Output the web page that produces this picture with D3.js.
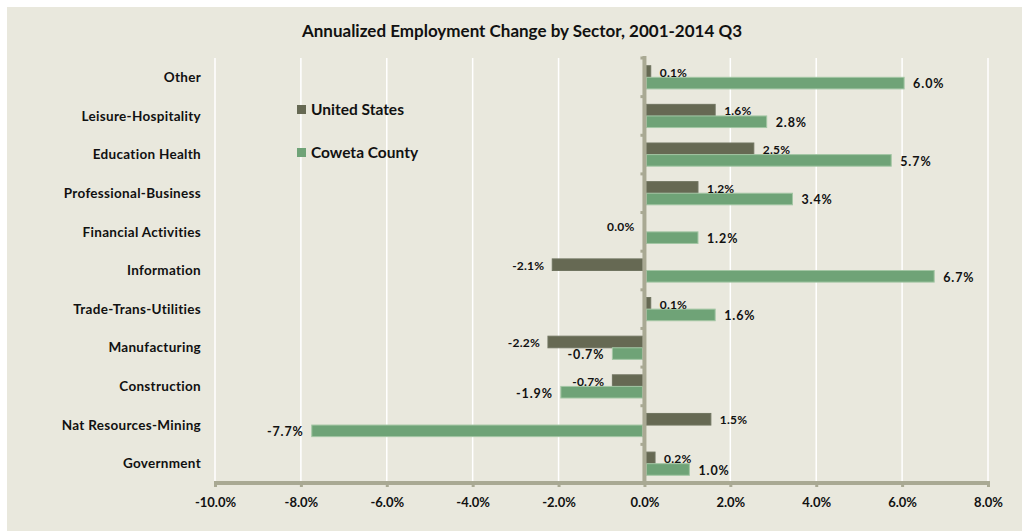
<!DOCTYPE html>
<html>
<head>
<meta charset="utf-8">
<script src="https://cdn.jsdelivr.net/npm/d3@7"></script>
<style>
  html, body { margin: 0; padding: 0; background: #ffffff; }
  svg { display: block; }
  text { font-family: Lato, "Open Sans", sans-serif; font-weight: 700; fill: #111; }
</style>
</head>
<body>
<svg id="chart" width="1022" height="531"></svg>
<script>
// Sectors, top to bottom
const sectors = [
  "Other", "Leisure-Hospitality", "Education Health", "Professional-Business",
  "Financial Activities", "Information", "Trade-Trans-Utilities", "Manufacturing",
  "Construction", "Nat Resources-Mining", "Government"
];
// Annualized employment change, percent
const unitedStates = [0.1, 1.6, 2.5, 1.2, 0.0, -2.1, 0.1, -2.2, -0.7, 1.5, 0.2];
const cowetaCounty = [6.0, 2.8, 5.7, 3.4, 1.2, 6.7, 1.6, -0.7, -1.9, -7.7, 1.0];
const seriesNames = ["United States", "Coweta County"];
const xTicks = [-10, -8, -6, -4, -2, 0, 2, 4, 6, 8];

const colors = { "United States": "#666953", "Coweta County": "#6fa377" };
const strokes = { "United States": "#707460", "Coweta County": "#a3c6a4" };

// plain hyphen for negative numbers
const locale = d3.formatLocale({ decimal: ".", thousands: ",", grouping: [3], currency: ["", ""], minus: "-" });
const pct = v => locale.format(".1f")(v) + "%";

const svg = d3.select("#chart");
const W = 1022, H = 531;

// chart panel
svg.append("rect").attr("x", 7).attr("y", 7).attr("width", W - 7).attr("height", H - 7)
  .attr("fill", "#e9e8dd");

const plot = { left: 215, right: 988, top: 58, bottom: 483 };

const x = d3.scaleLinear().domain([-10, 8]).range([plot.left, plot.right]);
const y = d3.scaleBand().domain(sectors).range([plot.top, plot.bottom])
  .paddingInner(0.4).paddingOuter(0.2);
const inner = d3.scaleBand().domain(seriesNames).range([0, y.bandwidth()]);
const step = y.step();

// title
svg.append("text").attr("x", 522).attr("y", 37).attr("text-anchor", "middle")
  .style("font-size", "17px").text("Annualized Employment Change by Sector, 2001-2014 Q3");

// vertical gridlines
svg.append("g").selectAll("line").data(xTicks.filter(t => t !== 0)).join("line")
  .attr("x1", d => x(d)).attr("x2", d => x(d))
  .attr("y1", plot.top).attr("y2", plot.bottom)
  .attr("stroke", "#ffffff").attr("stroke-width", 1.5);

// bars
const rows = sectors.map((s, i) => ({ sector: s, values: [
  { series: "United States", value: unitedStates[i] },
  { series: "Coweta County", value: cowetaCounty[i] }
]}));

const groups = svg.append("g").selectAll("g").data(rows).join("g")
  .attr("transform", d => `translate(0,${y(d.sector)})`);

groups.selectAll("rect").data(d => d.values).join("rect")
  .attr("x", d => Math.min(x(0), x(d.value)) + (d.value >= 0 ? 2 : -2))
  .attr("width", d => Math.abs(x(d.value) - x(0)))
  .attr("y", d => inner(d.series))
  .attr("height", inner.bandwidth())
  .attr("fill", d => colors[d.series])
  .attr("stroke", d => strokes[d.series])
  .attr("stroke-width", 1);

// value labels
groups.selectAll("text").data(d => d.values).join("text")
  .attr("x", d => d.value > 0 ? x(d.value) + 11 : x(d.value) - 10)
  .attr("y", d => inner(d.series) + inner.bandwidth() / 2 + 1)
  .attr("dy", "0.35em")
  .attr("text-anchor", d => d.value > 0 ? "start" : "end")
  .style("font-size", d => d.series === "United States" ? "12px" : "12.5px")
  .style("letter-spacing", d => d.series === "United States" ? "0.2px" : "0.9px")
  .text(d => pct(d.value));

// category labels
svg.append("g").selectAll("text").data(sectors).join("text")
  .attr("x", 201).attr("y", d => y(d) + y.bandwidth() / 2).attr("dy", "0.35em")
  .attr("text-anchor", "end").style("font-size", "13.5px").style("letter-spacing", "0.3px")
  .text(d => d);

// horizontal axis
const axisColor = "#a9a993";
const xAxis = svg.append("g").attr("transform", `translate(0,${plot.bottom})`)
  .call(d3.axisBottom(x).tickValues(xTicks).tickFormat(pct).tickSize(4).tickPadding(11));
xAxis.select(".domain").remove();
xAxis.selectAll(".tick line").attr("stroke", axisColor).attr("stroke-width", 3);
xAxis.selectAll(".tick text").style("font-size", "13px").style("font-family", "Lato, sans-serif")
  .attr("fill", "#111");
xAxis.append("line").attr("x1", plot.left - 1).attr("x2", plot.right + 2)
  .attr("y1", 0).attr("y2", 0).attr("stroke", axisColor).attr("stroke-width", 4);

// vertical zero axis with category boundary ticks
const yEdges = d3.range(sectors.length + 1).map(i => plot.top + i * step);
svg.append("g").selectAll("line").data(yEdges).join("line")
  .attr("x1", x(0) - 4).attr("x2", x(0))
  .attr("y1", d => d).attr("y2", d => d)
  .attr("stroke", axisColor).attr("stroke-width", 3);
svg.append("line").attr("x1", x(0)).attr("x2", x(0))
  .attr("y1", plot.top - 2).attr("y2", plot.bottom)
  .attr("stroke", axisColor).attr("stroke-width", 4);

// legend
const legend = svg.append("g").selectAll("g").data(seriesNames).join("g")
  .attr("transform", (d, i) => `translate(297,${105 + i * 43})`);
legend.append("rect").attr("width", 9).attr("height", 9).attr("fill", d => colors[d]);
legend.append("text").attr("x", 14).attr("y", 4.5).attr("dy", "0.36em")
  .style("font-size", "15.5px").text(d => d);
</script>
</body>
</html>
